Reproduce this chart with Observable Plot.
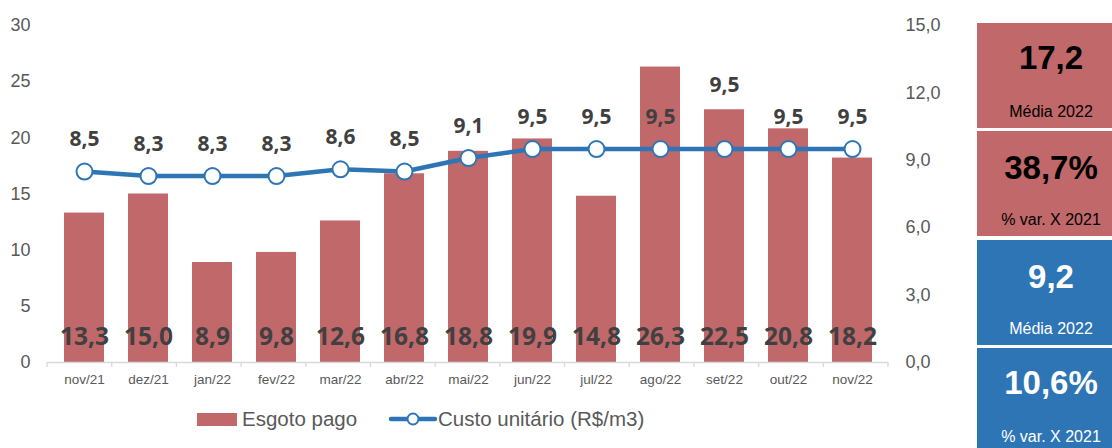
<!DOCTYPE html>
<html>
<head>
<meta charset="utf-8">
<script src="https://cdn.jsdelivr.net/npm/d3@7"></script>
<script src="https://cdn.jsdelivr.net/npm/@observablehq/plot@0.6"></script>
<style>
  html, body { margin: 0; padding: 0; background: #fff; }
  #wrap { position: relative; width: 1112px; height: 448px; overflow: hidden; font-family: "Liberation Sans", Arial, sans-serif; }
  #chart { position: absolute; left: 0; top: 0; }
  .box { position: absolute; left: 977px; width: 148px; text-align: center; }
  .box .big { position: absolute; left: 0; right: 0; font-weight: bold; font-size: 33px; line-height: 36px; }
  .box .small { position: absolute; left: 0; right: 0; font-size: 16px; line-height: 18px; }
  #legend { position: absolute; top: 405px; left: 0; width: 945px; height: 30px; font-size: 20.5px; color: #595959; }
</style>
</head>
<body>
<div id="wrap">
  <div id="chart"></div>
  <div id="legend"></div>
  <div id="panel"></div>
</div>
<script>
const months = ["nov/21","dez/21","jan/22","fev/22","mar/22","abr/22","mai/22","jun/22","jul/22","ago/22","set/22","out/22","nov/22"];
const esgotoPago = [13.3, 15.0, 8.9, 9.8, 12.6, 16.8, 18.8, 19.9, 14.8, 26.3, 22.5, 20.8, 18.2];
const custoUnitario = [8.5, 8.3, 8.3, 8.3, 8.6, 8.5, 9.1, 9.5, 9.5, 9.5, 9.5, 9.5, 9.5];
const leftTicks = [0, 5, 10, 15, 20, 25, 30];
const rightTicks = [0, 3, 6, 9, 12, 15];
const seriesNames = ["Esgoto pago", "Custo unitário (R$/m3)"];
const panelValues = ["17,2", "38,7%", "9,2", "10,6%"];
const panelLabels = ["Média 2022", "% var. X 2021", "Média 2022", "% var. X 2021"];

const RED = "#C0686A";
const BLUE = "#2E75B6";
const GRAY = "#595959";
const DARK = "#404040";

const fmt1 = v => v.toFixed(1).replace(".", ",");
const ratio = 30 / 15; // left-axis units per right-axis unit

const data = months.map((m, i) => ({m, esgoto: esgotoPago[i], custo: custoUnitario[i]}));

// line label position (data units of left axis); lift above a bar top if it would collide
const pxPerUnit = (362 - 25) / 30;
const labelData = data.map(d => {
  const base = d.custo * ratio + 32 / pxPerUnit;
  let y = base;
  if (d.esgoto > base - 0.9 && d.esgoto < base + 1.8) y = d.esgoto + 24 / pxPerUnit;
  return {m: d.m, y, text: fmt1(d.custo)};
});

function boundaryTicks(index, scales, values, dims) {
  const g = d3.create("svg:g");
  const w = dims.width - dims.marginLeft - dims.marginRight;
  const step = w / months.length;
  const y0 = dims.height - dims.marginBottom;
  for (let i = 0; i <= months.length; i++) {
    const x = dims.marginLeft + i * step;
    g.append("line").attr("x1", x).attr("x2", x).attr("y1", y0).attr("y2", y0 + 5)
      .attr("stroke", "#d9d9d9").attr("stroke-width", 1.3);
  }
  return g.node();
}

const chart = Plot.plot({
  width: 945,
  height: 395,
  marginLeft: 47,
  marginRight: 57,
  marginTop: 25,
  marginBottom: 33,
  style: {fontFamily: "'Liberation Sans', Arial, sans-serif", background: "transparent"},
  x: {domain: months, paddingInner: 0.38, paddingOuter: 0.19, label: null},
  y: {domain: [0, 30], label: null},
  marks: [
    Plot.barY(data, {x: "m", y: "esgoto", fill: RED}),
    Plot.ruleY([0], {stroke: "#d9d9d9", strokeWidth: 1.3}),
    boundaryTicks,
    Plot.axisX({tickSize: 0, tickPadding: 12, fontSize: 13.5, fill: GRAY}),
    Plot.axisY({anchor: "left", ticks: leftTicks, tickSize: 0, tickPadding: 17, fontSize: 18, fill: GRAY, label: null}),
    Plot.axisY({anchor: "right", ticks: rightTicks.map(t => t * ratio), tickFormat: d => fmt1(d / ratio), tickSize: 0, tickPadding: 17, fontSize: 18, fill: GRAY, label: null}),
    Plot.text(data, {x: "m", y: 0, dy: -25, text: d => fmt1(d.esgoto), fontSize: 24.5, fontWeight: "bold", fill: DARK, fontFamily: "'Open Sans', sans-serif"}),
    Plot.line(data, {x: "m", y: d => d.custo * ratio, stroke: BLUE, strokeWidth: 4.5}),
    Plot.dot(data, {x: "m", y: d => d.custo * ratio, r: 8, fill: "white", stroke: BLUE, strokeWidth: 2}),
    Plot.text(labelData, {x: "m", y: "y", text: "text", fontSize: 21, fontWeight: "bold", fill: DARK, fontFamily: "'Open Sans', sans-serif"})
  ]
});
document.getElementById("chart").appendChild(chart);

// legend
const legend = d3.select("#legend");
legend.append("div").style("position", "absolute").style("left", "197px").style("top", "8px")
  .style("width", "40px").style("height", "13px").style("background", RED);
legend.append("div").style("position", "absolute").style("left", "242px").style("top", "2px").text(seriesNames[0]);
const sym = legend.append("svg").style("position", "absolute").style("left", "388px").style("top", "0px")
  .attr("width", 50).attr("height", 30);
sym.append("line").attr("x1", 3).attr("x2", 47).attr("y1", 14).attr("y2", 14)
  .attr("stroke", BLUE).attr("stroke-width", 4.5).attr("stroke-linecap", "round");
sym.append("circle").attr("cx", 25).attr("cy", 14).attr("r", 5.5).attr("fill", "white")
  .attr("stroke", BLUE).attr("stroke-width", 2);
legend.append("div").style("position", "absolute").style("left", "438px").style("top", "2px").text(seriesNames[1]);

// side panel
const boxTops = [23, 131, 240, 348];
const boxColors = [RED, RED, BLUE, BLUE];
const textColors = ["#000", "#000", "#fff", "#fff"];
const panel = d3.select("#panel");
panelValues.forEach((v, i) => {
  const b = panel.append("div").attr("class", "box")
    .style("top", boxTops[i] + "px")
    .style("height", (i === 3 ? 110 : 105) + "px")
    .style("background", boxColors[i])
    .style("color", textColors[i]);
  b.append("div").attr("class", "big").style("top", (i === 0 || i === 3 ? 17 : 19) + "px").text(v);
  b.append("div").attr("class", "small").style("top", "80px").text(panelLabels[i]);
});
</script>
</body>
</html>
